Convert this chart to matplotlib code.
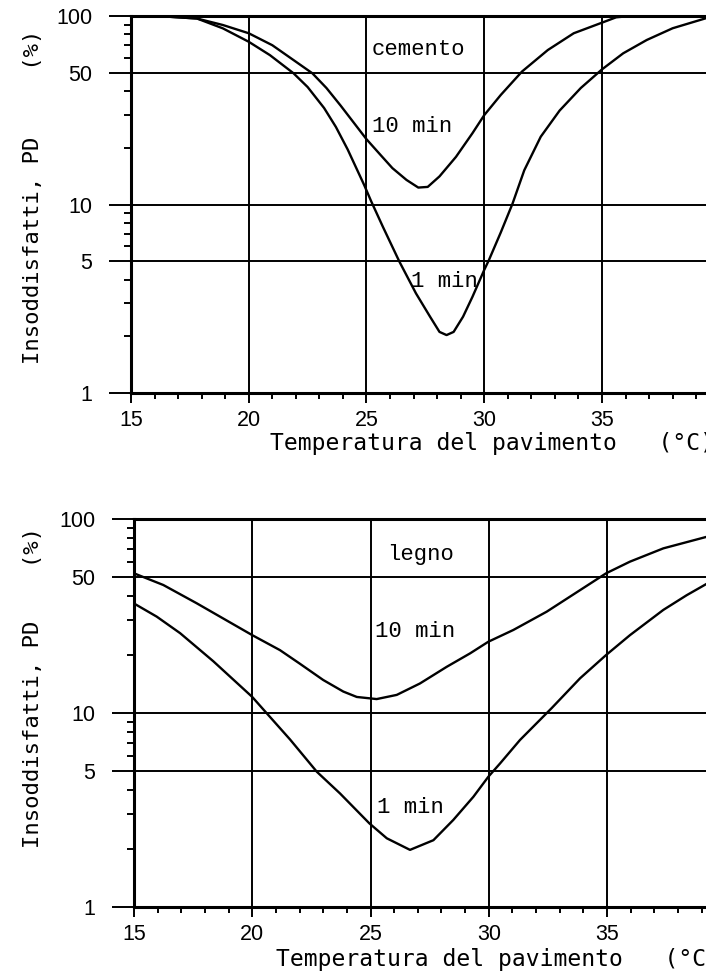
import matplotlib
matplotlib.use("Agg")
import matplotlib.pyplot as plt
from matplotlib.ticker import FixedLocator, FixedFormatter, LogLocator, MultipleLocator, NullFormatter

# PD (%) vs floor temperature, concrete floor
temp_cem_10 = [15, 16.5, 17.8, 18.9, 20.0, 21.0, 21.9, 22.7, 23.3, 23.9, 25.0, 25.6, 26.1,
               26.7, 27.2, 27.6, 28.1, 28.8, 29.5, 30.0, 30.7, 31.6, 32.7, 33.8, 35.0, 35.6,
               36.2, 40]
pd_cem_10 = [100, 99.3, 97, 89.6, 81, 70, 58.4, 49.7, 41.5, 33.5, 22.2, 18.3, 15.6,
             13.5, 12.3, 12.4, 14.1, 17.9, 23.9, 29.8, 38.1, 50.7, 66, 81, 92.2, 98.4,
             100, 100]
temp_cem_1 = [15, 16.5, 17.8, 18.9, 20.0, 20.9, 21.9, 22.5, 23.2, 23.7, 24.2, 24.9, 25.2,
              25.7, 26.4, 27.1, 27.7, 28.1, 28.4, 28.7, 29.1, 29.5, 30.0, 30.2, 30.7, 31.2,
              31.7, 32.4, 33.2, 34.1, 35.0, 35.9, 36.9, 38.0, 39.4]
pd_cem_1 = [100, 99.3, 97, 86, 73, 62, 49.7, 42, 32.5, 25.8, 19.6, 12.7, 10.4,
            7.6, 4.97, 3.38, 2.54, 2.11, 2.03, 2.11, 2.54, 3.24, 4.5, 5.08, 7.1, 10.1,
            15.2, 22.9, 31.5, 41.5, 52.1, 63.4, 74.6, 86.1, 97.2]

# PD (%) vs floor temperature, wooden floor
temp_leg_10 = [15, 16.24, 17.65, 20.0, 21.17, 22.0, 23.0, 23.85, 24.42, 25.26, 26.11, 27.09,
               28.22, 29.21, 29.98, 31.04, 32.45, 33.86, 34.96, 35.97, 37.38, 39.3]
pd_leg_10 = [52.5, 45.7, 36.8, 25.2, 21.1, 18, 14.8, 12.9, 12.1, 11.8, 12.4, 14.2,
             17.3, 20.3, 23.3, 26.8, 33.3, 43, 52.5, 60.3, 70.6, 81.5]
temp_leg_1 = [15, 15.96, 16.95, 18.35, 20.0, 20.54, 21.6, 22.73, 23.71, 24.95, 25.69, 26.67,
              27.66, 28.5, 29.35, 29.98, 30.48, 31.32, 32.66, 33.86, 34.96, 35.97, 37.38,
              38.37, 39.3]
pd_leg_1 = [36.7, 31.4, 25.8, 18.5, 12.1, 10.2, 7.3, 4.98, 3.85, 2.7, 2.26, 1.97,
            2.21, 2.81, 3.7, 4.69, 5.5, 7.26, 10.6, 15.1, 19.9, 25.2, 34,
            40.5, 47]

x_major = [15, 20, 25, 30, 35, 40]
x_labels = ["15", "20", "25", "30", "35", ""]
y_major = [1, 5, 10, 50, 100]
y_labels = ["1", "5", "10", "50", "100"]

AX_FONT = "DejaVu Sans Mono"
TICK_FONT = "Liberation Sans"
NOTE_FONT = "Liberation Mono"


def setup_axes(ax, ylabel, ylab_xy, xlab_xy):
    ax.set_yscale("log")
    ax.set_xlim(15, 40)
    ax.set_ylim(1, 100)

    ax.xaxis.set_major_locator(FixedLocator(x_major))
    ax.xaxis.set_major_formatter(FixedFormatter(x_labels))
    ax.xaxis.set_minor_locator(MultipleLocator(1))
    ax.yaxis.set_major_locator(FixedLocator(y_major))
    ax.yaxis.set_major_formatter(FixedFormatter(y_labels))
    ax.yaxis.set_minor_locator(LogLocator(base=10, subs=[2, 3, 4, 6, 7, 8, 9]))
    ax.yaxis.set_minor_formatter(NullFormatter())

    ax.tick_params(axis="y", which="major", direction="out", length=16, width=1.4, pad=12,
                   labelsize=15.5)
    ax.tick_params(axis="y", which="minor", direction="out", length=5, width=1.4)
    ax.tick_params(axis="x", which="major", direction="out", length=7, width=1.4, pad=5,
                   labelsize=15.5)
    ax.tick_params(axis="x", which="minor", direction="out", length=4.5, width=1.4)
    for lab in ax.get_xticklabels() + ax.get_yticklabels():
        lab.set_family(TICK_FONT)

    ax.grid(True, which="major", color="black", linewidth=1.4)
    for side in ["left", "bottom", "top"]:
        ax.spines[side].set_linewidth(2.2)
    ax.spines["right"].set_visible(False)

    ax.set_ylabel(ylabel, family=AX_FONT, fontsize=16, va="center")
    ax.yaxis.set_label_coords(*ylab_xy)
    ax.set_xlabel("Temperatura del pavimento   (°C)", family=AX_FONT, fontsize=16.6,
                  va="center")
    ax.xaxis.set_label_coords(*xlab_xy)


fig = plt.figure(figsize=(7.06, 9.76), dpi=100)

# cemento
ax1 = fig.add_axes([0.18555, 0.5973, 0.8339, 0.3863])
setup_axes(ax1, "Insoddisfatti, PD     (%)", (-0.166, 0.52), (0.613, -0.1326))
ax1.plot(temp_cem_10, pd_cem_10, color="black", linewidth=1.7)
ax1.plot(temp_cem_1, pd_cem_1, color="black", linewidth=1.7)
ax1.text(25.2, 66.7, "cemento", family=NOTE_FONT, fontsize=16, va="center")
ax1.text(25.25, 26, "10 min", family=NOTE_FONT, fontsize=16, va="center")
ax1.text(26.9, 3.9, "1 min", family=NOTE_FONT, fontsize=16, va="center")

# legno
ax2 = fig.add_axes([0.1898, 0.0707, 0.8375, 0.3975])
setup_axes(ax2, "Insoddisfatti, PD    (%)", (-0.170, 0.566), (0.6155, -0.1366))
ax2.plot(temp_leg_10, pd_leg_10, color="black", linewidth=1.7)
ax2.plot(temp_leg_1, pd_leg_1, color="black", linewidth=1.7)
ax2.text(25.7, 66, "legno", family=NOTE_FONT, fontsize=16, va="center")
ax2.text(25.19, 26.2, "10 min", family=NOTE_FONT, fontsize=16, va="center")
ax2.text(25.27, 3.24, "1 min", family=NOTE_FONT, fontsize=16, va="center")

fig.savefig("out.png", dpi=100)
